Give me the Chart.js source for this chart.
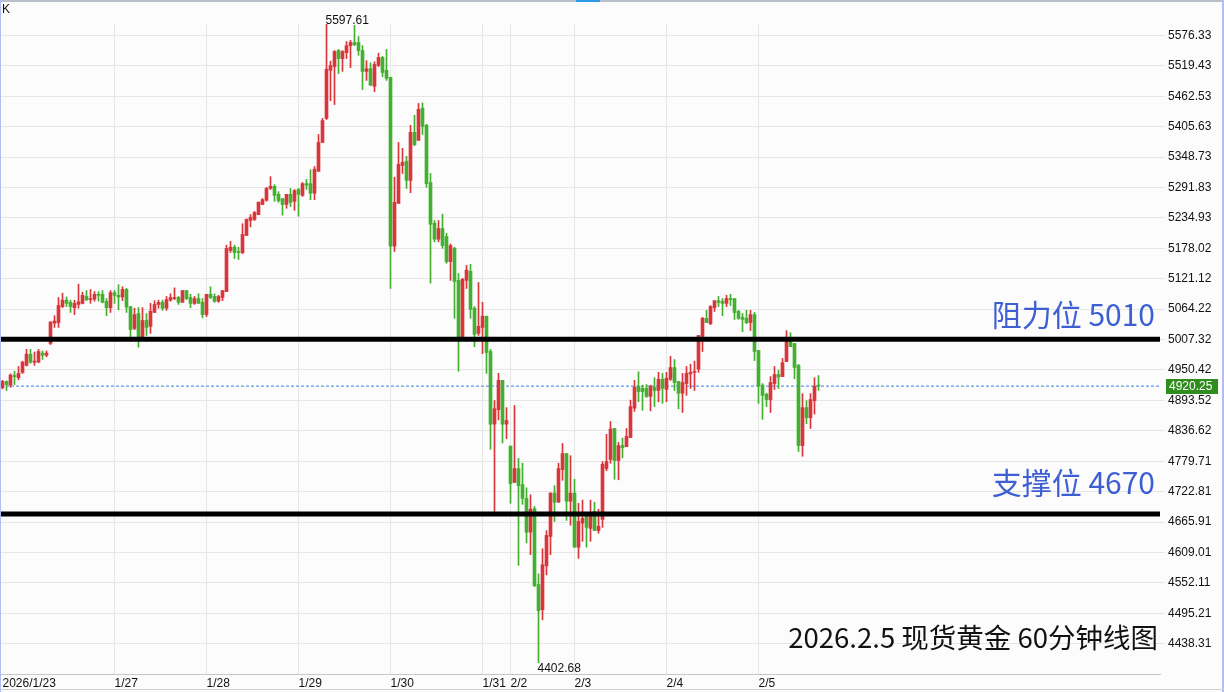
<!DOCTYPE html>
<html>
<head>
<meta charset="utf-8">
<script src="https://cdn.jsdelivr.net/npm/chart.js@4.4.1/dist/chart.umd.min.js"></script>
<style>
  html, body { margin: 0; padding: 0; background: #fcfcfc; }
  #wrap { width: 1224px; height: 692px; }
</style>
</head>
<body>
<div id="wrap"><canvas id="kline" width="1224" height="692"></canvas></div>
<script>
// 60 minute candles, spot gold, 2026/1/23 - 2026/2/5
const candleOpen = [
  4917,4929,4922,4940,4936,4946,4959,4980,4965,4965,4982,4978,5000,5038,5039,5069,5081,5077,5067,5073,
  5075,5088,5082,5083,5092,5092,5079,5067,5095,5090,5087,5101,5069,5028,5056,5011,5043,5032,5058,5073,
  5077,5066,5081,5084,5086,5077,5099,5086,5075,5084,5077,5054,5092,5088,5079,5086,5097,5174,5180,5172,
  5170,5202,5230,5232,5241,5260,5268,5290,5294,5279,5271,5260,5279,5266,5288,5277,5299,5299,5281,5322,
  5376,5421,5511,5518,5548,5533,5544,5557,5563,5563,5548,5509,5514,5481,5520,5535,5511,5498,5182,5262,
  5333,5341,5305,5395,5380,5440,5408,5301,5225,5195,5215,5200,5153,5178,5118,5006,5118,5135,5066,5019,
  5030,5051,4985,4849,4876,4931,4849,4808,4740,4766,4736,4710,4647,4691,4549,4502,4584,4639,4720,4703,
  4764,4794,4705,4720,4619,4664,4680,4654,4686,4650,4671,4766,4783,4841,4781,4809,4807,4824,4879,4920,
  4916,4916,4901,4918,4912,4933,4914,4933,4955,4929,4907,4925,4943,4946,4952,5013,5047,5037,5067,5080,
  5079,5075,5084,5084,5060,5049,5047,5039,5054,4987,4922,4905,4895,4925,4942,4938,4966,5011,5000,4959,
  4809,4880,4861,4893,4922
];
const candleHigh = [
  4931,4930,4943,4948,4957,4967,4989,4989,4984,4989,4986,4986,5041,5052,5086,5094,5087,5081,5081,5111,
  5096,5099,5101,5097,5097,5099,5084,5099,5099,5110,5106,5103,5069,5066,5067,5067,5056,5075,5080,5081,
  5081,5088,5093,5104,5088,5099,5099,5092,5088,5093,5084,5092,5106,5093,5090,5099,5184,5191,5184,5180,
  5224,5233,5241,5247,5265,5271,5292,5312,5297,5284,5271,5279,5290,5288,5290,5301,5307,5325,5331,5391,
  5421,5597.61,5528,5548,5550,5548,5565,5567,5595,5574,5557,5529,5525,5527,5543,5537,5550,5498,5311,5376,
  5365,5350,5408,5427,5449,5450,5410,5318,5230,5230,5242,5206,5186,5180,5131,5122,5146,5148,5069,5114,
  5077,5051,4989,4893,4944,4931,4880,4808,4884,4785,4776,4730,4717,4695,4569,4616,4650,4721,4734,4776,
  4813,4794,4790,4746,4701,4707,4680,4707,4703,4690,4779,4830,4854,4841,4815,4823,4841,4894,4931,4947,
  4922,4923,4922,4936,4946,4944,4946,4976,4970,4929,4944,4957,4961,4967,5015,5049,5062,5071,5080,5088,
  5084,5090,5092,5084,5062,5056,5062,5062,5058,4987,4925,4907,4938,4957,4950,4972,5024,5020,5000,4961,
  4906,4893,4906,4936,4940
];
const candleLow = [
  4915,4912,4918,4923,4932,4944,4958,4963,4959,4964,4970,4975,4998,5030,5030,5067,5069,5058,5054,5066,
  5074,5080,5075,5079,5079,5076,5052,5058,5075,5063,5080,5058,5012,5026,4993,5011,5015,5019,5058,5066,
  5062,5062,5079,5082,5073,5077,5082,5067,5073,5075,5048,5050,5084,5077,5077,5080,5097,5170,5159,5157,
  5168,5202,5218,5230,5241,5260,5266,5288,5266,5264,5240,5253,5256,5249,5238,5275,5288,5269,5269,5322,
  5376,5419,5454,5447,5505,5509,5533,5516,5557,5539,5475,5492,5483,5471,5518,5499,5492,5103,5172,5262,
  5318,5290,5282,5370,5380,5391,5292,5113,5190,5190,5178,5150,5118,5047,4948,5006,5103,5047,4994,5015,
  4981,4944,4802,4686,4857,4814,4822,4701,4740,4585,4699,4627,4605,4545,4402.68,4483,4567,4605,4667,4703,
  4744,4669,4660,4619,4598,4630,4619,4630,4650,4645,4656,4762,4776,4746,4745,4786,4807,4824,4873,4891,
  4875,4899,4874,4882,4891,4888,4891,4931,4912,4878,4871,4903,4916,4912,4946,4985,5039,5035,5060,5069,
  5052,5069,5071,5045,5045,5022,5037,5024,4968,4888,4858,4882,4871,4914,4916,4938,4966,4994,4934,4798,
  4789,4850,4841,4868,4912
];
const candleClose = [
  4929,4923,4941,4938,4944,4965,4980,4965,4967,4985,4978,4982,5040,5042,5071,5081,5075,5069,5075,5078,
  5090,5082,5084,5092,5090,5077,5067,5095,5090,5087,5101,5068,5026,5054,5011,5043,5030,5060,5073,5077,
  5066,5082,5086,5086,5077,5099,5084,5075,5084,5075,5054,5092,5086,5079,5088,5099,5178,5180,5170,5170,
  5204,5232,5236,5245,5264,5269,5290,5294,5277,5267,5260,5279,5264,5286,5279,5299,5296,5281,5326,5376,
  5417,5513,5520,5546,5533,5546,5557,5563,5559,5548,5509,5514,5483,5522,5535,5507,5496,5182,5264,5335,
  5339,5305,5395,5372,5438,5406,5299,5223,5195,5215,5183,5153,5183,5116,5006,5120,5137,5064,5017,5032,
  5051,4983,4849,4878,4931,4849,4856,4738,4766,4734,4710,4647,4690,4547,4500,4586,4641,4720,4703,4766,
  4794,4705,4720,4619,4667,4673,4656,4684,4650,4658,4774,4779,4840,4781,4809,4805,4826,4882,4918,4910,
  4910,4901,4920,4912,4933,4916,4935,4955,4927,4907,4927,4944,4946,4948,5015,5047,5039,5069,5080,5077,
  5075,5084,5082,5058,5047,5045,5039,5054,4985,4920,4903,4895,4927,4942,4937,4964,5011,4994,4955,4809,
  4880,4861,4895,4920,4920.25
];

// x axis: candle index of the first bar of each day
const dayTickIndex = [0, 28, 51, 74, 97, 120, 127, 143, 166, 189];
const dayTickLabels = ['2026/1/23', '1/27', '1/28', '1/29', '1/30', '1/31', '2/2', '2/3', '2/4', '2/5'];

// y axis ticks
const priceTicks = [4438.31, 4495.21, 4552.11, 4609.01, 4665.91, 4722.81, 4779.71, 4836.62, 4893.52, 4950.42,
  5007.32, 5064.22, 5121.12, 5178.02, 5234.93, 5291.83, 5348.73, 5405.63, 5462.53, 5519.43, 5576.33];
const priceTickLabels = ['4438.31', '4495.21', '4552.11', '4609.01', '4665.91', '4722.81', '4779.71', '4836.62',
  '4893.52', '4950.42', '5007.32', '5064.22', '5121.12', '5178.02', '5234.93', '5291.83', '5348.73', '5405.63',
  '5462.53', '5519.43', '5576.33'];

// horizontal levels drawn on the chart
const resistanceLevel = 5008;
const supportLevel = 4681;
const lastPrice = 4920.25;

const UP = '#d9363c';
const DOWN = '#43b02f';
const X_MIN = -0.375, X_MAX = 289.375;

const candleColor = ctx => candleClose[ctx.dataIndex] >= candleOpen[ctx.dataIndex] ? UP : DOWN;

const wickData = candleHigh.map((h, i) => ({x: i, y: [candleLow[i], h]}));
const bodyData = candleOpen.map((o, i) => ({x: i, y: [o, candleClose[i]]}));

const hLine = (v) => [{x: X_MIN, y: v}, {x: X_MAX, y: v}];

Chart.defaults.font.family = '"Liberation Sans", Arial, sans-serif';
Chart.defaults.font.size = 12;
Chart.defaults.color = '#111';

//plugin for frame, labels and notes
const decor = {
  id: 'decor',
  beforeDraw(chart) {
    const {ctx} = chart;
    ctx.save();
    ctx.fillStyle = '#fcfcfc';
    ctx.fillRect(0, 0, chart.width, chart.height);
    ctx.restore();
  },
  afterDraw(chart) {
    const {ctx, scales: {x, y}} = chart;
    ctx.save();
    // frame
    ctx.fillStyle = '#b9c0ca';
    ctx.fillRect(0, 0, chart.width, 2);
    ctx.fillStyle = '#2b9be8';
    ctx.fillRect(576, 0, 24, 2);
    ctx.fillStyle = '#b3bdf2';
    ctx.fillRect(0, 0, 1, chart.height);
    ctx.fillRect(chart.width - 2, 0, 2, chart.height);
    ctx.fillStyle = '#cfcfcf';
    ctx.fillRect(0, 689, chart.width, 1);

    ctx.fillStyle = '#111';
    ctx.font = '12px "Liberation Sans", Arial, sans-serif';
    ctx.textAlign = 'left';
    ctx.textBaseline = 'alphabetic';
    ctx.fillText('K', 2, 13);

    // max / min labels
    const hi = Math.max(...candleHigh), hiIdx = candleHigh.indexOf(hi);
    const lo = Math.min(...candleLow), loIdx = candleLow.indexOf(lo);
    ctx.fillText(hi.toFixed(2), x.getPixelForValue(hiIdx) - 1, y.getPixelForValue(hi) + 0.5);
    ctx.fillText(lo.toFixed(2), x.getPixelForValue(loIdx) - 1, y.getPixelForValue(lo) + 9.5);

    // last price box
    const py = y.getPixelForValue(lastPrice);
    ctx.fillStyle = '#2f8d1e';
    ctx.fillRect(1166, Math.round(py) - 7, 52, 15);
    ctx.fillStyle = '#ffffff';
    ctx.textBaseline = 'middle';
    ctx.fillText(lastPrice.toFixed(2), 1169, Math.round(py) + 0.5);

    // notes
    ctx.textAlign = 'right';
    ctx.textBaseline = 'alphabetic';
    ctx.fillStyle = '#3d5fd2';
    ctx.font = '30px "Noto Sans CJK SC", sans-serif';
    ctx.fillText('阻力位 5010', 1155, 326);
    ctx.fillText('支撑位 4670', 1155, 494);
    ctx.fillStyle = '#111';
    ctx.font = '27.5px "Noto Sans CJK SC", sans-serif';
    ctx.fillText('2026.2.5 现货黄金 60分钟线图', 1158, 648);
    ctx.restore();
  }
};

const config = {
  type: 'bar',
  data: {
    datasets: [
      {label: 'wick', data: wickData, backgroundColor: candleColor, borderWidth: 0,
        grouped: false, barPercentage: 1, categoryPercentage: 1, maxBarThickness: 1, order: 2},
      {label: 'body', data: bodyData, backgroundColor: candleColor, borderWidth: 0,
        grouped: false, barPercentage: 1, categoryPercentage: 1, maxBarThickness: 3, minBarLength: 1, order: 1},
      {type: 'line', label: 'last', data: hLine(lastPrice), borderColor: '#3a84e6', borderWidth: 1,
        borderDash: [3, 2], pointRadius: 0, order: 5},
      {type: 'line', label: 'resistance', data: hLine(resistanceLevel), borderColor: '#000', borderWidth: 5,
        pointRadius: 0, order: -1},
      {type: 'line', label: 'support', data: hLine(supportLevel), borderColor: '#000', borderWidth: 5,
        pointRadius: 0, order: -1}
    ]
  },
  options: {
    responsive: false,
    animation: false,
    devicePixelRatio: 1,
    events: [],
    layout: {padding: {left: 1, top: 24, right: 0, bottom: 0}},
    plugins: {legend: {display: false}, tooltip: {enabled: false}},
    scales: {
      x: {
        type: 'linear', min: X_MIN, max: X_MAX, offset: false,
        afterBuildTicks: axis => { axis.ticks = dayTickIndex.map(v => ({value: v})); },
        afterFit: axis => { axis.height = 18; },
        grid: {offset: false, color: c => c.index === 0 ? 'rgba(0,0,0,0)' : '#e6e6e6', drawTicks: false},
        border: {display: true, color: '#c8c8c8'},
        ticks: {align: 'start', padding: 2, autoSkip: false, minRotation: 0, maxRotation: 0,
          color: '#111', callback: (v, i) => dayTickLabels[i]}
      },
      y: {
        type: 'linear', position: 'right', min: 4381.7, max: 5597.6,
        afterBuildTicks: axis => { axis.ticks = priceTicks.map(v => ({value: v})); },
        afterFit: axis => { axis.width = 64; },
        grid: {color: '#e6e6e6', tickLength: 5},
        border: {display: false},
        ticks: {padding: 3, color: '#111', callback: (v, i) => priceTickLabels[i]}
      }
    }
  },
  plugins: [decor]
};

const kline = new Chart(document.getElementById('kline'), config);
</script>
</body>
</html>
